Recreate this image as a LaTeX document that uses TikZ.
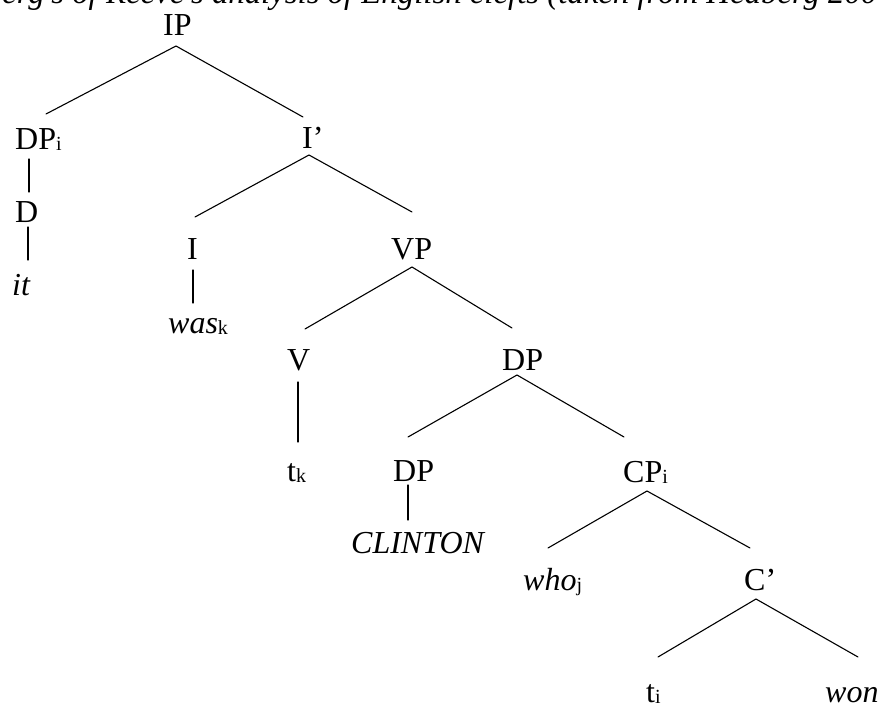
\documentclass[tikz,border=0pt]{standalone}
\usepackage{fontspec}
\setmainfont{Liberation Serif}
\newcommand{\lowidx}[1]{\raisebox{-0.06em}{\fontsize{20}{20}\selectfont #1}}
\tikzset{
  lbl/.style={inner sep=0pt, anchor=base west, font=\fontsize{32}{38}\selectfont},
  branch/.style={line width=1.1pt, line cap=round}
}
\begin{document}
\begin{tikzpicture}[x=1pt,y=-1pt]
\useasboundingbox (0,0) rectangle (879,704);
\clip (0,0) rectangle (879,704);

% caption line, mostly above the page edge
\node[lbl, font=\fontsize{32.8}{38}\selectfont] (cap) at (2,3) {\itshape\llap{Hedb}erg's of Reeve's analysis of English clefts (taken from Hedberg 2000)};

% category labels and words
\node[lbl] (IP)   at (163,35)  {IP};
\node[lbl] (DPi)  at (15,149)  {DP\lowidx{i}};
\node[lbl] (Ibar) at (302,148) {I’};
\node[lbl] (D)    at (15,222)  {D};
\node[lbl] (I)    at (187,259) {I};
\node[lbl] (VP)   at (391,259) {VP};
\node[lbl] (it)   at (12,295)  {\itshape it};
\node[lbl] (was)  at (168,333) {\itshape was\upshape\lowidx{k}};
\node[lbl] (V)    at (287,370) {V};
\node[lbl] (DP)   at (502,370) {DP};
\node[lbl] (tk)   at (287,481) {t\lowidx{k}};
\node[lbl] (DPb)  at (393,481) {DP};
\node[lbl] (CPi)  at (623,482) {CP\lowidx{i}};
\node[lbl] (clin) at (351,553) {\itshape CLINTON};
\node[lbl] (who)  at (523,590) {\itshape who\upshape\lowidx{j}};
\node[lbl] (Cbar) at (744,590) {C’};
\node[lbl] (ti)   at (646,702) {t\lowidx{i}};
\node[lbl] (won)  at (825,702) {\itshape won};

% branch points and branch ends
\coordinate (IP-a)   at (176,46);
\coordinate (IP-l)   at (46,114);
\coordinate (IP-r)   at (303,117);
\coordinate (Ib-a)   at (309,155);
\coordinate (Ib-l)   at (195,217);
\coordinate (Ib-r)   at (412,212);
\coordinate (VP-a)   at (412,267);
\coordinate (VP-l)   at (305,329);
\coordinate (VP-r)   at (512,328);
\coordinate (DP-a)   at (517,375);
\coordinate (DP-l)   at (408,437);
\coordinate (DP-r)   at (624,437);
\coordinate (CP-a)   at (647,491);
\coordinate (CP-l)   at (548,548);
\coordinate (CP-r)   at (750,548);
\coordinate (Cb-a)   at (756,599);
\coordinate (Cb-l)   at (658,657);
\coordinate (Cb-r)   at (858,657);
\coordinate (DPi-t)  at (29,159);
\coordinate (DPi-b)  at (29,192);
\coordinate (D-t)    at (28,227);
\coordinate (D-b)    at (28,260);
\coordinate (I-t)    at (193,270);
\coordinate (I-b)    at (193,303);
\coordinate (V-t)    at (298,382);
\coordinate (V-b)    at (298,442);
\coordinate (DPb-t)  at (408,485);
\coordinate (DPb-b)  at (408,520);

% branches
\draw[branch] (IP-l) -- (IP-a) -- (IP-r);
\draw[branch] (Ib-l) -- (Ib-a) -- (Ib-r);
\draw[branch] (VP-l) -- (VP-a) -- (VP-r);
\draw[branch] (DP-l) -- (DP-a) -- (DP-r);
\draw[branch] (CP-l) -- (CP-a) -- (CP-r);
\draw[branch] (Cb-l) -- (Cb-a) -- (Cb-r);
\draw[branch] (DPi-t) -- (DPi-b);
\draw[branch] (D-t) -- (D-b);
\draw[branch] (I-t) -- (I-b);
\draw[branch] (V-t) -- (V-b);
\draw[branch] (DPb-t) -- (DPb-b);
\end{tikzpicture}
\end{document}
